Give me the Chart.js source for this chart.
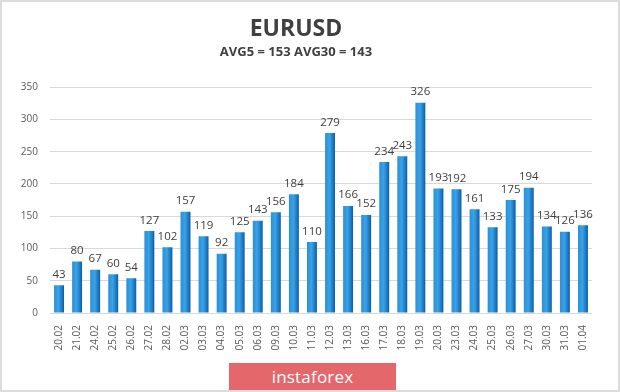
<!DOCTYPE html>
<html>
<head>
<meta charset="utf-8">
<script src="https://cdn.jsdelivr.net/npm/chart.js@4"></script>
<style>
  body { margin: 0; background: #fff; }
  #wrap { position: relative; width: 620px; height: 392px; box-sizing: border-box; border: 2px solid #dcdcdc; overflow: hidden; }
  #chart { position: absolute; left: -2px; top: -2px; }
  #brand {
    position: absolute; left: 227px; top: 361px; width: 167px; height: 29px;
    background: #e3676b; color: #fff; font: 17px "Open Sans", sans-serif;
    text-align: center; line-height: 28px; letter-spacing: 0.2px;
  }
</style>
</head>
<body>
<div id="wrap">
  <canvas id="chart" width="620" height="392"></canvas>
  <div id="brand">instaforex</div>
</div>
<script>
// Daily ranges, EURUSD
const dates = ['20.02', '21.02', '24.02', '25.02', '26.02', '27.02', '28.02', '02.03', '03.03', '04.03',
  '05.03', '06.03', '09.03', '10.03', '11.03', '12.03', '13.03', '16.03', '17.03', '18.03',
  '19.03', '20.03', '23.03', '24.03', '25.03', '26.03', '27.03', '30.03', '31.03', '01.04'];
const ranges = [43, 80, 67, 60, 54, 127, 102, 157, 119, 92,
  125, 143, 156, 184, 110, 279, 166, 152, 234, 243,
  326, 193, 192, 161, 133, 175, 194, 134, 126, 136];
const yTicks = [0, 50, 100, 150, 200, 250, 300, 350];

const fontFamily = '"Open Sans", sans-serif';

// draws value above every bar
const valueLabels = {
  id: 'valueLabels',
  afterDatasetsDraw(chart) {
    const ctx = chart.ctx;
    const meta = chart.getDatasetMeta(0);
    ctx.save();
    ctx.font = '11.5px ' + fontFamily;
    ctx.fillStyle = '#404040';
    ctx.textAlign = 'center';
    ctx.textBaseline = 'bottom';
    meta.data.forEach((bar, i) => {
      ctx.fillText(ranges[i], bar.x, bar.y - 5);
    });
    ctx.restore();
  }
};

function barFill(context) {
  const chart = context.chart;
  if (!chart.chartArea) return '#1f86d0';
  const x = chart.scales.x.getPixelForValue(context.dataIndex);
  const g = chart.ctx.createLinearGradient(x - 5, 0, x + 5, 0);
  g.addColorStop(0, '#2b8fd8');
  g.addColorStop(0.45, '#3aa2e6');
  g.addColorStop(0.8, '#1a78c2');
  g.addColorStop(1, '#0f5c9c');
  return g;
}

new Chart(document.getElementById('chart'), {
  type: 'bar',
  data: {
    labels: dates,
    datasets: [{
      data: ranges,
      backgroundColor: barFill,
      borderWidth: 0,
      categoryPercentage: 1,
      barPercentage: 0.55
    }]
  },
  options: {
    responsive: false,
    animation: false,
    layout: { padding: { top: 0, right: 28, bottom: 20, left: 0 } },
    plugins: {
      legend: { display: false },
      tooltip: { enabled: false },
      title: {
        display: true,
        text: 'EURUSD',
        color: '#404040',
        font: { family: fontFamily, size: 23, weight: 'bold', lineHeight: 1.2 },
        padding: { top: 16, bottom: 0 }
      },
      subtitle: {
        display: true,
        text: 'AVG5 = 153 AVG30 = 143',
        color: '#404040',
        font: { family: fontFamily, size: 13, weight: 'bold', lineHeight: 1.2 },
        padding: { top: 1, bottom: 27 }
      }
    },
    scales: {
      x: {
        grid: { display: false },
        border: { display: false },
        ticks: {
          color: '#595959',
          font: { family: fontFamily, size: 10 },
          minRotation: 90,
          maxRotation: 90,
          padding: 4,
          autoSkip: false
        },
        afterFit(scale) { scale.height = 59; }
      },
      y: {
        min: 0,
        max: 350,
        afterBuildTicks(scale) { scale.ticks = yTicks.map(v => ({ value: v })); },
        grid: { color: '#d9d9d9', drawTicks: false },
        border: { display: false },
        ticks: {
          color: '#595959',
          font: { family: fontFamily, size: 10 },
          padding: 12
        },
        afterFit(scale) { scale.width = 50; }
      }
    }
  },
  plugins: [valueLabels]
});
</script>
</body>
</html>
